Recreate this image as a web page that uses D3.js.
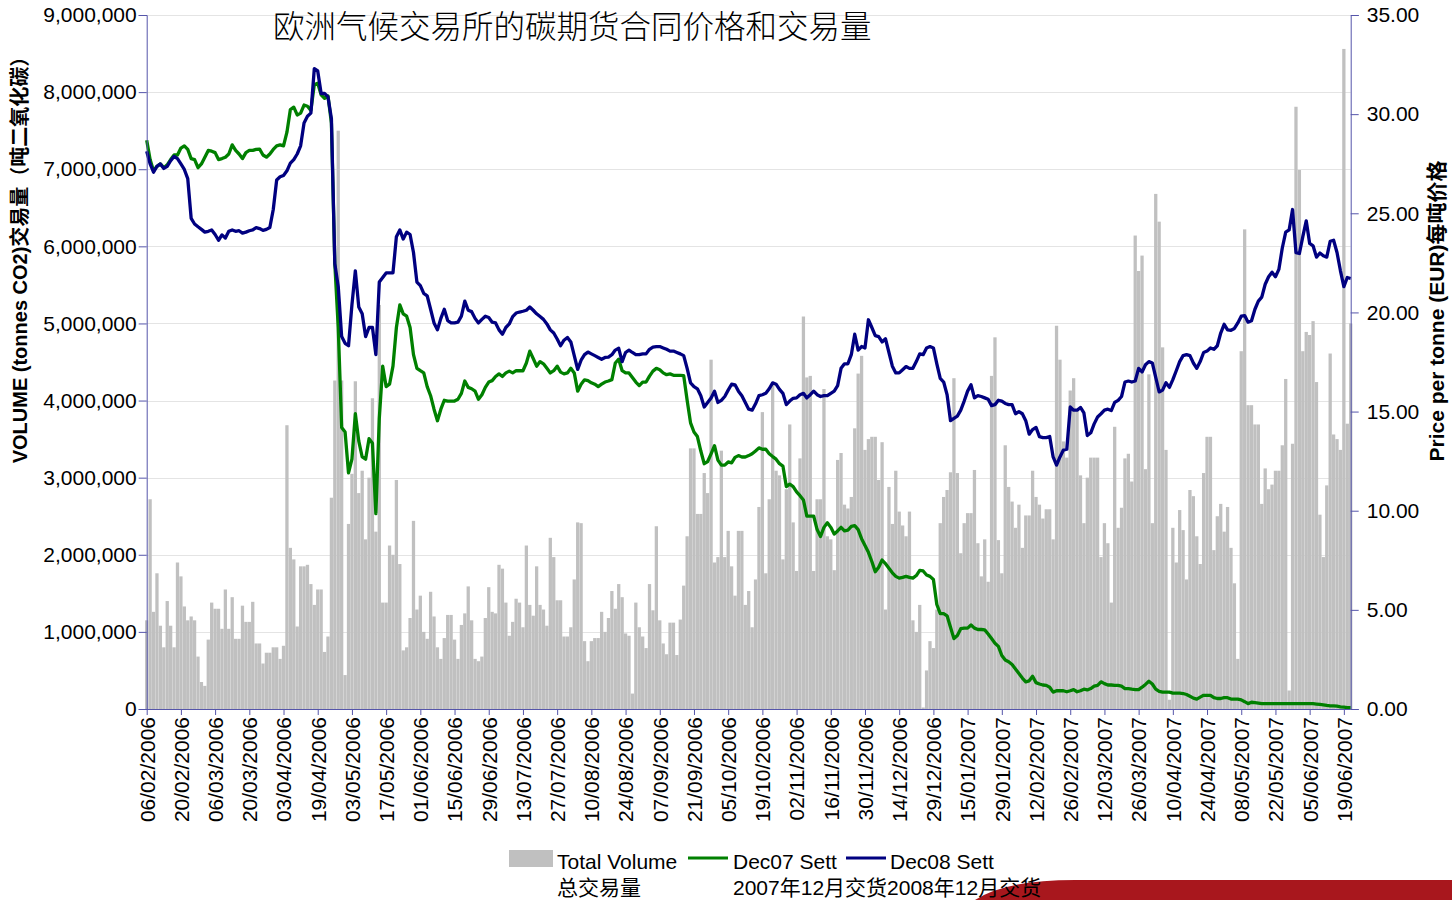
<!DOCTYPE html>
<html>
<head>
<meta charset="utf-8">
<script src="https://cdn.jsdelivr.net/npm/d3@7"></script>
<style>
  body { margin: 0; background: #fff; }
  svg { display: block; }
  .axis path, .axis line { stroke: #5555aa; }
  .axis text { font-family: "Liberation Sans", Arial, sans-serif; font-size: 21px; fill: #000; }
</style>
</head>
<body>
<svg id="chart" width="1452" height="900"></svg>
<script>
// trading-day tick labels (one every 10 trading days)
var tickLabels = ["06/02/2006","20/02/2006","06/03/2006","20/03/2006","03/04/2006","19/04/2006",
  "03/05/2006","17/05/2006","01/06/2006","15/06/2006","29/06/2006","13/07/2006","27/07/2006",
  "10/08/2006","24/08/2006","07/09/2006","21/09/2006","05/10/2006","19/10/2006","02/11/2006",
  "16/11/2006","30/11/2006","14/12/2006","29/12/2006","15/01/2007","29/01/2007","12/02/2007",
  "26/02/2007","12/03/2007","26/03/2007","10/04/2007","24/04/2007","08/05/2007","22/05/2007",
  "05/06/2007","19/06/2007"];

// total daily volume, millions of tonnes CO2
var volumeMillions = [
  1.15, 2.72, 1.26, 1.76, 1.08, 0.80, 1.40, 1.08, 0.80, 1.90,
  1.72, 1.33, 1.15, 1.20, 1.15, 0.68, 0.35, 0.30, 0.90, 1.38,
  1.30, 1.30, 1.04, 1.55, 1.04, 1.45, 0.91, 0.91, 1.34, 1.13,
  1.13, 1.39, 0.85, 0.85, 0.59, 0.73, 0.73, 0.80, 0.80, 0.65,
  0.82, 3.68, 2.09, 1.94, 1.07, 1.85, 1.85, 1.87, 1.62, 1.35,
  1.55, 1.55, 0.74, 0.94, 2.74, 4.26, 7.50, 4.26, 0.44, 2.40,
  3.05, 4.25, 2.80, 3.09, 2.20, 3.00, 4.03, 2.30, 5.24, 1.38,
  1.38, 2.12, 2.00, 2.97, 1.88, 0.76, 0.80, 1.18, 2.44, 1.29,
  1.47, 1.00, 0.91, 1.52, 1.20, 0.80, 0.65, 0.92, 1.22, 1.22,
  0.90, 0.65, 1.09, 1.24, 1.59, 1.15, 0.65, 0.62, 0.68, 1.18,
  1.58, 1.26, 1.24, 1.87, 1.82, 1.38, 0.95, 1.13, 1.43, 1.38,
  1.06, 2.12, 1.35, 1.21, 1.85, 1.35, 1.29, 1.08, 2.22, 1.97,
  1.41, 1.41, 0.94, 0.94, 1.06, 1.68, 2.42, 2.41, 0.88, 0.62,
  0.88, 0.92, 0.92, 1.26, 1.00, 1.18, 1.53, 1.30, 1.62, 1.45,
  0.98, 0.95, 0.20, 1.38, 1.06, 0.94, 0.79, 1.62, 1.28, 2.37,
  1.15, 0.85, 0.71, 1.12, 1.12, 0.70, 1.16, 1.60, 2.24, 3.38,
  3.38, 2.53, 2.53, 3.06, 2.80, 4.53, 1.90, 1.97, 3.35, 1.97,
  2.31, 1.85, 1.47, 2.31, 2.31, 1.35, 1.53, 1.06, 1.68, 2.62,
  3.85, 1.76, 2.72, 4.22, 3.09, 3.03, 1.94, 2.85, 3.69, 2.42,
  1.79, 3.25, 5.09, 4.30, 4.32, 1.79, 2.72, 2.72, 4.15, 2.24,
  2.20, 1.80, 3.23, 3.32, 2.65, 2.60, 2.75, 3.64, 4.35, 4.58,
  3.36, 3.50, 3.53, 3.53, 2.97, 3.46, 1.29, 2.88, 2.40, 3.09,
  2.56, 2.38, 2.24, 2.56, 1.15, 1.00, 1.35, 0.02, 0.50, 0.88,
  0.79, 1.29, 2.41, 2.75, 2.84, 3.07, 4.29, 3.06, 2.02, 2.41,
  2.54, 2.54, 3.10, 2.15, 1.72, 2.20, 1.65, 4.32, 4.82, 2.19,
  1.76, 3.42, 2.88, 2.69, 2.35, 2.65, 2.09, 2.51, 2.51, 3.09,
  2.75, 2.65, 2.47, 2.59, 2.59, 2.20, 4.97, 4.53, 3.47, 3.26,
  4.13, 4.29, 3.88, 3.03, 2.41, 3.00, 3.26, 3.26, 3.26, 1.97,
  2.41, 2.15, 1.38, 3.66, 2.35, 2.61, 3.25, 3.31, 2.95, 6.14,
  5.68, 5.88, 3.11, 4.34, 2.41, 6.68, 6.32, 4.69, 3.36, 0.12,
  2.35, 1.90, 2.58, 2.32, 1.68, 2.84, 2.76, 2.24, 1.88, 3.06,
  3.53, 3.53, 2.06, 2.50, 2.66, 2.30, 2.62, 2.09, 1.63, 0.65,
  4.64, 6.22, 3.94, 3.94, 3.69, 3.69, 2.66, 3.12, 2.85, 2.91,
  3.09, 3.09, 3.42, 4.28, 0.24, 3.44, 7.81, 6.99, 4.64, 4.89,
  4.85, 5.03, 4.24, 2.52, 1.97, 2.90, 4.61, 3.56, 3.50, 3.36,
  8.56, 3.70, 5.00
];

// Dec07 settlement, EUR per tonne
var dec07Sett = [
  28.68, 27.71, 27.14, 27.37, 27.49, 27.30, 27.44, 27.71, 27.94, 27.94,
  28.29, 28.40, 28.22, 27.76, 27.71, 27.30, 27.49, 27.83, 28.17, 28.13,
  28.06, 27.71, 27.76, 27.83, 27.99, 28.45, 28.17, 27.99, 27.76, 28.06,
  28.17, 28.17, 28.22, 28.24, 27.94, 27.83, 27.99, 28.22, 28.40, 28.45,
  28.40, 29.09, 30.23, 30.35, 29.96, 30.05, 30.46, 30.40, 30.19, 31.49,
  31.56, 30.97, 30.80, 30.92, 29.55, 22.45, 19.24, 14.20, 13.97, 11.91,
  12.60, 14.89, 13.51, 12.71, 12.60, 13.63, 13.40, 9.85, 14.66, 17.29,
  16.26, 16.38, 17.29, 19.24, 20.38, 19.93, 19.81, 19.24, 17.87, 17.18,
  17.06, 16.95, 16.26, 15.80, 15.12, 14.54, 15.12, 15.57, 15.53, 15.53,
  15.53, 15.62, 15.92, 16.54, 16.22, 16.15, 16.03, 15.62, 15.85, 16.22,
  16.49, 16.56, 16.77, 16.90, 16.77, 16.95, 17.04, 16.95, 17.06, 17.06,
  17.06, 17.45, 18.05, 17.68, 17.29, 17.52, 17.41, 17.18, 16.95, 17.06,
  17.29, 16.99, 16.90, 16.95, 17.18, 16.95, 16.03, 16.38, 16.60, 16.56,
  16.45, 16.38, 16.26, 16.38, 16.49, 16.54, 16.61, 17.45, 17.64, 17.06,
  16.95, 16.95, 16.72, 16.49, 16.31, 16.49, 16.49, 16.79, 17.04, 17.18,
  17.11, 16.95, 16.86, 16.90, 16.83, 16.83, 16.83, 16.81, 15.57, 14.43,
  13.97, 13.74, 13.01, 12.37, 12.48, 12.87, 13.28, 12.55, 12.30, 12.30,
  12.46, 12.41, 12.69, 12.78, 12.71, 12.71, 12.78, 12.87, 13.01, 13.17,
  13.10, 13.10, 12.87, 12.73, 12.60, 12.37, 12.25, 11.22, 11.34, 11.22,
  10.95, 10.76, 10.54, 9.73, 9.73, 9.73, 9.05, 8.70, 9.16, 9.39,
  9.16, 8.82, 8.98, 9.16, 8.98, 9.02, 9.21, 9.25, 9.05, 8.59,
  8.25, 7.90, 7.44, 6.92, 7.15, 7.51, 7.33, 7.10, 6.87, 6.69,
  6.60, 6.64, 6.69, 6.64, 6.60, 6.73, 6.99, 6.96, 6.76, 6.69,
  6.53, 5.27, 4.81, 4.81, 4.70, 4.12, 3.55, 3.71, 4.05, 4.08,
  4.08, 4.24, 4.08, 4.01, 4.01, 3.99, 3.78, 3.55, 3.32, 3.16,
  2.70, 2.47, 2.38, 2.24, 2.02, 1.79, 1.56, 1.37, 1.42, 1.65,
  1.33, 1.26, 1.21, 1.19, 1.10, 0.85, 0.92, 0.92, 0.92, 0.87,
  0.92, 0.98, 0.87, 0.92, 1.00, 0.96, 1.03, 1.15, 1.19, 1.37,
  1.28, 1.21, 1.21, 1.19, 1.19, 1.15, 1.03, 1.03, 1.00, 0.98,
  0.98, 1.10, 1.24, 1.40, 1.26, 1.00, 0.89, 0.85, 0.85, 0.85,
  0.80, 0.80, 0.80, 0.78, 0.73, 0.64, 0.55, 0.50, 0.60, 0.69,
  0.69, 0.69, 0.57, 0.53, 0.53, 0.57, 0.57, 0.50, 0.50, 0.50,
  0.46, 0.37, 0.27, 0.34, 0.32, 0.30, 0.27, 0.27, 0.27, 0.27,
  0.27, 0.27, 0.27, 0.27, 0.27, 0.27, 0.27, 0.27, 0.27, 0.27,
  0.27, 0.27, 0.25, 0.23, 0.21, 0.18, 0.16, 0.16, 0.14, 0.11,
  0.09, 0.07, 0.07
];

// Dec08 settlement, EUR per tonne
var dec08Sett = [
  28.13, 27.49, 27.07, 27.37, 27.49, 27.26, 27.37, 27.65, 27.87, 27.76,
  27.49, 27.21, 26.75, 24.74, 24.46, 24.32, 24.19, 24.05, 24.09, 24.16,
  23.93, 23.64, 23.91, 23.75, 24.09, 24.16, 24.09, 24.12, 24.00, 24.05,
  24.12, 24.16, 24.28, 24.23, 24.14, 24.19, 24.28, 25.19, 26.68, 26.84,
  26.91, 27.14, 27.53, 27.71, 27.99, 28.40, 29.55, 29.89, 30.05, 32.30,
  32.18, 31.04, 31.04, 30.87, 29.78, 22.45, 21.30, 18.78, 18.44, 18.32,
  20.38, 22.10, 20.27, 19.93, 18.78, 19.24, 19.24, 17.87, 21.53, 21.76,
  21.99, 21.99, 21.99, 23.82, 24.16, 23.70, 24.05, 23.93, 23.02, 21.53,
  21.35, 20.96, 20.84, 20.16, 19.47, 19.12, 19.70, 20.16, 19.59, 19.47,
  19.47, 19.51, 19.81, 20.57, 20.11, 20.04, 19.70, 19.47, 19.65, 19.81,
  19.74, 19.51, 19.47, 19.12, 18.90, 19.24, 19.42, 19.79, 19.97, 20.02,
  20.06, 20.11, 20.27, 20.11, 19.93, 19.79, 19.65, 19.42, 19.12, 18.96,
  18.66, 18.32, 18.60, 18.74, 18.51, 17.82, 17.13, 17.59, 17.87, 18.00,
  17.91, 17.82, 17.73, 17.64, 17.73, 17.75, 17.87, 18.10, 18.19, 17.52,
  17.98, 18.10, 17.98, 17.87, 17.87, 17.91, 17.91, 18.14, 18.25, 18.28,
  18.28, 18.21, 18.14, 18.05, 18.05, 17.98, 17.91, 17.82, 17.18, 16.45,
  16.26, 16.15, 15.80, 15.23, 15.46, 15.69, 16.03, 15.46, 15.57, 15.76,
  16.08, 16.38, 16.35, 16.03, 15.80, 15.46, 15.12, 15.07, 15.39, 15.80,
  15.85, 15.92, 16.15, 16.45, 16.38, 16.12, 15.92, 15.35, 15.53, 15.67,
  15.69, 15.85, 15.92, 15.69, 15.85, 16.03, 15.85, 15.76, 15.80, 15.80,
  15.92, 16.03, 16.31, 17.18, 17.41, 17.41, 17.87, 18.90, 18.10, 18.28,
  18.21, 19.63, 19.24, 18.83, 18.78, 18.51, 18.67, 17.98, 17.29, 16.95,
  16.95, 17.11, 17.27, 17.18, 17.18, 17.52, 17.91, 17.87, 18.21, 18.28,
  18.21, 17.41, 16.67, 16.49, 15.85, 14.54, 14.66, 14.77, 15.07, 15.53,
  16.03, 16.35, 15.69, 15.80, 15.76, 15.69, 15.62, 15.30, 15.35, 15.57,
  15.53, 15.41, 15.35, 15.35, 14.89, 15.00, 14.89, 14.54, 13.86, 14.09,
  14.20, 13.74, 13.69, 13.69, 13.74, 12.71, 12.30, 12.71, 13.06, 13.10,
  15.23, 15.07, 15.07, 15.21, 14.93, 13.79, 13.93, 14.38, 14.73, 14.89,
  15.07, 15.12, 15.05, 15.46, 15.57, 15.76, 16.49, 16.54, 16.49, 16.54,
  17.18, 17.00, 17.36, 17.52, 17.45, 16.72, 15.99, 16.08, 16.45, 16.22,
  16.61, 17.06, 17.52, 17.82, 17.87, 17.82, 17.45, 17.18, 17.52, 17.98,
  18.05, 18.21, 18.14, 18.32, 18.96, 19.40, 19.12, 19.10, 19.19, 19.47,
  19.81, 19.84, 19.51, 19.58, 20.16, 20.57, 20.77, 21.42, 21.80, 22.03,
  21.80, 22.17, 23.25, 24.05, 24.16, 25.19, 23.02, 22.97, 23.82, 24.62,
  23.48, 23.36, 22.79, 23.00, 22.86, 22.79, 23.59, 23.64, 23.02, 22.10,
  21.30, 21.76, 21.71
];

var volumeTicks = d3.range(0, 10, 1);     // millions
var priceTicks = d3.range(0, 40, 5);      // EUR

var svg = d3.select("#chart");
var plotLeft = 146.7, plotRight = 1350.7, plotTop = 15, plotBottom = 709;
var days = d3.range(volumeMillions.length);

var x = d3.scalePoint().domain(days).range([plotLeft, plotRight]);
var yVol = d3.scaleLinear().domain([0, 9]).range([plotBottom, plotTop]);
var yPrice = d3.scaleLinear().domain([0, 35]).range([plotBottom, plotTop]);
var barW = x.step() * 0.96;

// gridlines
svg.append("g")
  .selectAll("line")
  .data(volumeTicks)
  .enter().append("line")
  .attr("x1", plotLeft).attr("x2", plotRight)
  .attr("y1", function(d) { return Math.round(yVol(d)) + 0.5; })
  .attr("y2", function(d) { return Math.round(yVol(d)) + 0.5; })
  .style("stroke", "#e4e4e4")
  .style("stroke-width", 1);

// volume bars
svg.append("g")
  .selectAll("rect")
  .data(volumeMillions)
  .enter().append("rect")
  .attr("x", function(d, i) { return x(i) - barW / 2; })
  .attr("y", function(d) { return yVol(d); })
  .attr("width", barW)
  .attr("height", function(d) { return plotBottom - yVol(d); })
  .attr("fill", "#c0c0c0");

// price lines
var line = d3.line()
  .x(function(d, i) { return x(i); })
  .y(function(d) { return yPrice(d); });

svg.append("path").datum(dec07Sett)
  .attr("d", line)
  .attr("fill", "none")
  .attr("stroke", "#008000")
  .attr("stroke-width", 3.3)
  .attr("stroke-linejoin", "round");

svg.append("path").datum(dec08Sett)
  .attr("d", line)
  .attr("fill", "none")
  .attr("stroke", "#000080")
  .attr("stroke-width", 3.3)
  .attr("stroke-linejoin", "round");

// axes
svg.append("g").attr("class", "axis")
  .attr("transform", "translate(" + plotLeft + ",0)")
  .call(d3.axisLeft(yVol).tickValues(volumeTicks).tickSize(8).tickPadding(2)
    .tickFormat(function(d) { return d3.format(",")(d * 1e6); }));

svg.append("g").attr("class", "axis")
  .attr("transform", "translate(" + plotRight + ",0)")
  .call(d3.axisRight(yPrice).tickValues(priceTicks).tickSize(8).tickPadding(8)
    .tickFormat(d3.format(".2f")));

var xAxis = svg.append("g").attr("class", "axis")
  .attr("transform", "translate(0," + plotBottom + ")")
  .call(d3.axisBottom(x)
    .tickValues(days.filter(function(d) { return d % 10 === 0; }))
    .tickSize(6)
    .tickFormat(function(d) { return tickLabels[d / 10]; }));
xAxis.selectAll(".tick text")
  .attr("transform", "rotate(-90)")
  .attr("x", -8).attr("y", 0).attr("dy", "0.35em")
  .style("text-anchor", "end");
xAxis.select(".domain").attr("d", "M" + plotLeft + ",0.5H" + plotRight);

// title
svg.append("text")
  .attr("x", 273).attr("y", 38)
  .style("font-family", "'Noto Sans CJK SC', sans-serif")
  .style("font-size", "31.5px")
  .style("font-weight", 300)
  .text("欧洲气候交易所的碳期货合同价格和交易量");

// axis titles
svg.append("text")
  .attr("transform", "translate(27,255) rotate(-90)")
  .style("text-anchor", "middle")
  .style("font-family", "'Liberation Sans', 'Noto Sans CJK SC', sans-serif")
  .style("font-size", "20px")
  .style("font-weight", "bold")
  .text("VOLUME (tonnes CO2)交易量（吨二氧化碳）");

svg.append("text")
  .attr("transform", "translate(1444,311) rotate(-90)")
  .style("text-anchor", "middle")
  .style("font-family", "'Liberation Sans', 'Noto Sans CJK SC', sans-serif")
  .style("font-size", "21px")
  .style("font-weight", "bold")
  .text("Price per tonne (EUR)每吨价格");

// red decoration bottom right
svg.append("path")
  .attr("d", "M975,900 Q1005,880 1075,880 L1452,880 L1452,900 Z")
  .attr("fill", "#a8171d");

// legend
var legend = svg.append("g")
  .style("font-family", "'Liberation Sans', 'Noto Sans CJK SC', sans-serif")
  .style("font-size", "21px");
legend.append("rect").attr("x", 509).attr("y", 850).attr("width", 44).attr("height", 17).attr("fill", "#c0c0c0");
legend.append("text").attr("x", 557).attr("y", 869).text("Total Volume");
legend.append("text").attr("x", 557).attr("y", 895).text("总交易量");
legend.append("line").attr("x1", 688).attr("x2", 728).attr("y1", 858).attr("y2", 858)
  .attr("stroke", "#008000").attr("stroke-width", 3);
legend.append("text").attr("x", 733).attr("y", 869).text("Dec07 Sett");
legend.append("line").attr("x1", 846).attr("x2", 886).attr("y1", 858).attr("y2", 858)
  .attr("stroke", "#000080").attr("stroke-width", 3);
legend.append("text").attr("x", 890).attr("y", 869).text("Dec08 Sett");
legend.append("text").attr("x", 733).attr("y", 895).text("2007年12月交货2008年12月交货");
</script>
</body>
</html>
